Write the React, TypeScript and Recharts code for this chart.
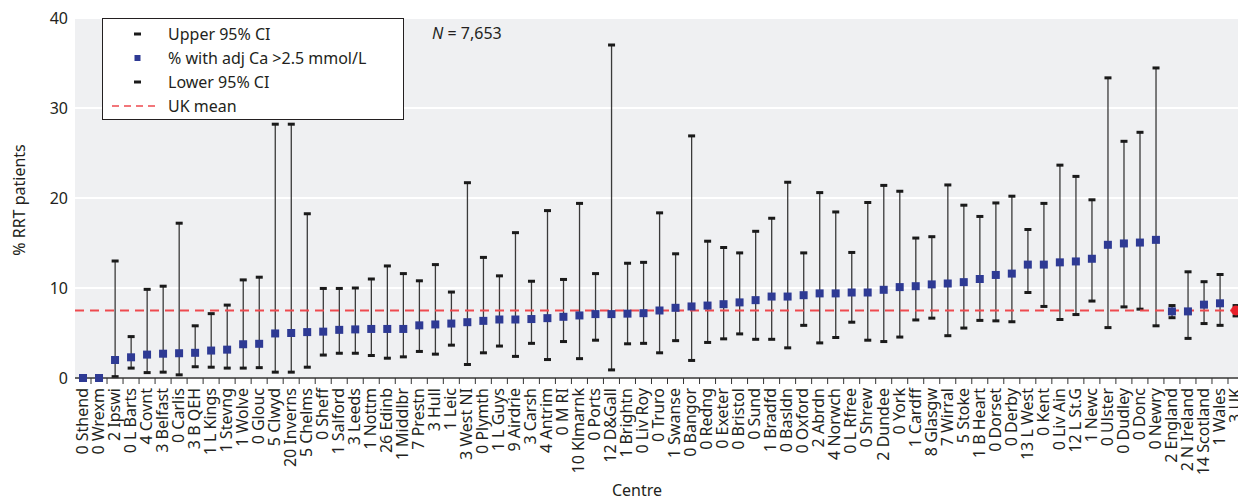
import { ComposedChart, Bar, Line, XAxis, YAxis, CartesianGrid, ReferenceLine } from 'recharts';

const centres = [
  '0 Sthend', '0 Wrexm', '2 Ipswi', '0 L Barts', '4 Covnt', '3 Belfast', '0 Carlis', '3 B QEH', '1 L Kings', '1 Stevng',
  '1 Wolve', '0 Glouc', '5 Clwyd', '20 Inverns', '5 Chelms', '0 Sheff', '1 Salford', '3 Leeds', '1 Nottm', '26 Edinb',
  '1 Middlbr', '7 Prestn', '3 Hull', '1 Leic', '3 West NI', '0 Plymth', '1 L Guys', '9 Airdrie', '3 Carsh', '4 Antrim',
  '0 M RI', '10 Klmarnk', '0 Ports', '12 D&Gall', '1 Brightn', '0 Liv Roy', '0 Truro', '1 Swanse', '0 Bangor', '0 Redng',
  '0 Exeter', '0 Bristol', '0 Sund', '1 Bradfd', '0 Basldn', '0 Oxford', '2 Abrdn', '4 Norwch', '0 L Rfree', '0 Shrew',
  '2 Dundee', '0 York', '1 Cardff', '8 Glasgw', '7 Wirral', '5 Stoke', '1 B Heart', '0 Dorset', '0 Derby', '13 L West',
  '0 Kent', '0 Liv Ain', '12 L St.G', '1 Newc', '0 Ulster', '0 Dudley', '0 Donc', '0 Newry', '2 England', '2 N Ireland',
  '14 Scotland', '1 Wales', '3 UK',
];

// % with adj Ca >2.5 mmol/L
const pctHighCa = [
  0, 0, 2.0, 2.3, 2.6, 2.7, 2.75, 2.8, 3.05, 3.15,
  3.75, 3.8, 4.95, 5.0, 5.1, 5.15, 5.35, 5.4, 5.45, 5.45,
  5.45, 5.85, 5.95, 6.05, 6.2, 6.35, 6.5, 6.5, 6.55, 6.65,
  6.8, 6.95, 7.1, 7.1, 7.15, 7.2, 7.5, 7.8, 7.95, 8.05,
  8.2, 8.4, 8.65, 9.05, 9.05, 9.2, 9.4, 9.4, 9.5, 9.5,
  9.8, 10.1, 10.2, 10.4, 10.5, 10.65, 11.0, 11.45, 11.6, 12.6,
  12.6, 12.85, 12.95, 13.25, 14.8, 14.95, 15.05, 15.35, 7.4, 7.4,
  8.15, 8.3, 7.5,
];

const upper95 = [
  null, null, 13.0, 4.6, 9.85, 10.2, 17.2, 5.8, 7.15, 8.1,
  10.9, 11.2, 28.2, 28.2, 18.25, 9.95, 9.95, 10.0, 11.0, 12.45,
  11.6, 10.8, 12.6, 9.55, 21.7, 13.4, 11.35, 16.15, 10.75, 18.6,
  10.95, 19.4, 11.6, 37.0, 12.75, 12.85, 18.35, 13.8, 26.9, 15.2,
  14.5, 13.9, 16.3, 17.75, 21.75, 13.9, 20.6, 18.45, 13.95, 19.5,
  21.4, 20.75, 15.55, 15.7, 21.45, 19.2, 17.95, 19.45, 20.2, 16.5,
  19.4, 23.65, 22.4, 19.8, 33.35, 26.3, 27.3, 34.45, 8.05, 11.8,
  10.7, 11.5, 8.05,
];

const lower95 = [
  null, null, 0.15, 1.1, 0.6, 0.65, 0.35, 1.25, 1.2, 1.1,
  1.1, 1.15, 0.65, 0.65, 1.2, 2.55, 2.75, 2.75, 2.5, 2.2,
  2.35, 2.95, 2.65, 3.65, 1.5, 2.8, 3.55, 2.4, 3.85, 2.05,
  4.05, 2.15, 4.2, 0.9, 3.8, 3.85, 2.8, 4.15, 1.95, 3.95,
  4.35, 4.9, 4.3, 4.3, 3.35, 5.85, 3.9, 4.5, 6.2, 4.2,
  4.05, 4.55, 6.45, 6.65, 4.7, 5.55, 6.4, 6.35, 6.25, 9.5,
  7.95, 6.5, 7.05, 8.55, 5.6, 7.9, 7.65, 5.8, 6.7, 4.4,
  6.05, 5.85, 6.9,
];

const yTicks = [0, 10, 20, 30, 40];
const ukMean = 7.5;

const data = centres.map((centre, i) => ({
  centre,
  pct: pctHighCa[i],
  ci: upper95[i] == null ? null : [lower95[i], upper95[i]],
}));

const FONT = '"Noto Sans", sans-serif';
const TEXT = '#231f20';
const BLUE = '#2e3a94';
const RED = '#ee4a4f';
const BAND = (1244 - 75) / centres.length;

const ErrorShape = (props: any) => {
  const { x, y, width, height } = props;
  if (x == null || y == null || !height) return null;
  const cx = x + width / 2;
  const top = Math.min(y, y + height);
  const bottom = Math.max(y, y + height);
  return (
    <g>
      <line x1={cx} y1={top} x2={cx} y2={bottom} stroke="#3a3a3a" strokeWidth={1.3} />
      <rect x={cx - 3.5} y={top - 1.5} width={7} height={3} fill="#1a1a1a" />
      <rect x={cx - 3.5} y={bottom - 1.5} width={7} height={3} fill="#1a1a1a" />
    </g>
  );
};

const PointDot = (props: any) => {
  const { cx, cy, payload, index } = props;
  if (cx == null || cy == null) return null;
  if (payload.centre === '3 UK') {
    return <circle key={index} cx={cx} cy={cy} r={5} fill="#e8202a" />;
  }
  return <rect key={index} x={cx - 4} y={cy - 4} width={8} height={8} fill={BLUE} />;
};

const CentreTick = (props: any) => {
  const { x, y, payload, index } = props;
  return (
    <g>
      {index < centres.length - 1 && (
        <line x1={x + BAND / 2} y1={y} x2={x + BAND / 2} y2={y + 6} stroke="#333" strokeWidth={1} />
      )}
      <text
        transform={`translate(${x},${y + 10}) rotate(-90)`}
        textAnchor="end"
        dy="0.3em"
        fontSize={16}
        fontFamily={FONT}
        fill={TEXT}
      >
        {payload.value}
      </text>
    </g>
  );
};

export default function App() {
  return (
    <div style={{ margin: '-8px 0 0 -8px', position: 'relative', width: 1246, height: 501, fontFamily: FONT }}>
      <ComposedChart width={1246} height={501} data={data} margin={{ top: 18, right: 2, bottom: 0, left: 0 }}>
        <CartesianGrid vertical={false} fill="#eff0f2" stroke="#ffffff" strokeWidth={2} />
        <XAxis
          dataKey="centre"
          interval={0}
          height={123}
          tickLine={false}
          tickSize={0}
          tickMargin={0}
          axisLine={{ stroke: '#333', strokeWidth: 1.5 }}
          tick={<CentreTick />}
        />
        <YAxis
          domain={[0, 40]}
          ticks={yTicks}
          width={75}
          axisLine={false}
          tickLine={false}
          tickSize={0}
          tickMargin={7}
          tick={{ fontSize: 16, fill: TEXT, fontFamily: FONT }}
        />
        <Bar dataKey="ci" shape={<ErrorShape />} isAnimationActive={false} />
        <ReferenceLine y={ukMean} stroke={RED} strokeWidth={2} strokeDasharray="9 6" />
        <Line dataKey="pct" stroke="none" dot={<PointDot />} activeDot={false} isAnimationActive={false} />
      </ComposedChart>
      <svg width={1246} height={501} style={{ position: 'absolute', left: 0, top: 0, pointerEvents: 'none' }}>
        <text transform="translate(25,200) rotate(-90)" textAnchor="middle" fontSize={16} fill={TEXT} fontFamily={FONT}>
          % RRT patients
        </text>
        <text x={637} y={496} textAnchor="middle" fontSize={16} fill={TEXT} fontFamily={FONT}>
          Centre
        </text>
        <text x={432} y={39} fontSize={16} fill={TEXT} fontFamily={FONT}>
          <tspan fontStyle="italic">N</tspan> = 7,653
        </text>
        <rect x={102.5} y={18.5} width={301} height={101} fill="#ffffff" stroke={TEXT} strokeWidth={1} />
        <rect x={134} y={32.5} width={7} height={3} fill="#1a1a1a" />
        <text x={168} y={40} fontSize={16} fill={TEXT} fontFamily={FONT}>Upper 95% CI</text>
        <rect x={134.5} y={55} width={6} height={6} fill={BLUE} />
        <text x={168} y={64} fontSize={16} fill={TEXT} fontFamily={FONT}>% with adj Ca &gt;2.5 mmol/L</text>
        <rect x={134} y={80.5} width={7} height={3} fill="#1a1a1a" />
        <text x={168} y={88} fontSize={16} fill={TEXT} fontFamily={FONT}>Lower 95% CI</text>
        <line x1={112} y1={106} x2={160} y2={106} stroke={RED} strokeWidth={1.5} strokeDasharray="7 5" />
        <text x={168} y={112} fontSize={16} fill={TEXT} fontFamily={FONT}>UK mean</text>
      </svg>
    </div>
  );
}
